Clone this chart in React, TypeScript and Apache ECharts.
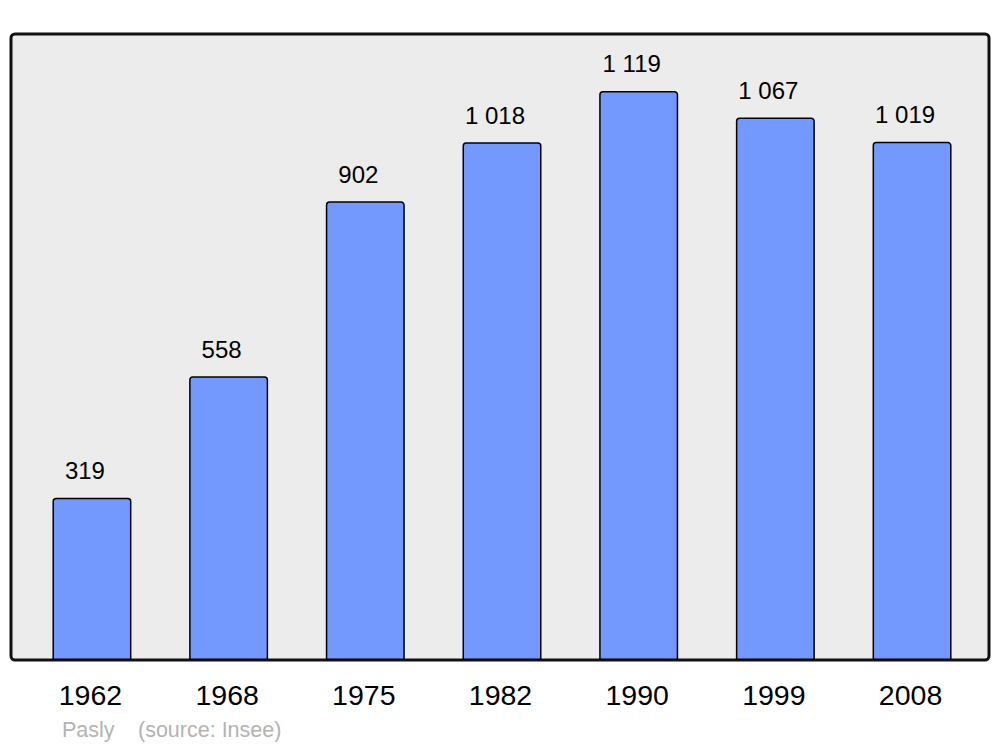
import React, { useEffect, useRef } from "react";
import * as echarts from "echarts";

const years = ["1962", "1968", "1975", "1982", "1990", "1999", "2008"];
const population = [319, 558, 902, 1018, 1119, 1067, 1019];
const townName = "Pasly";
const sourceText = "(source: Insee)";

const fmt = (v: number) => {
  const s = String(Math.round(v));
  return s.replace(/\B(?=(\d{3})+(?!\d))/g, " ");
};

export default function App() {
  const ref = useRef<HTMLDivElement>(null);
  useEffect(() => {
    document.body.style.margin = "0";
    const chart = echarts.init(ref.current!, null, { renderer: "svg" });
    chart.setOption({
      animation: false,
      backgroundColor: "#ffffff",
      textStyle: { fontFamily: "Liberation Sans, Arial, sans-serif" },
      grid: { left: 23.6, right: 19.6, top: 34, bottom: 87, containLabel: false },
      xAxis: {
        type: "category",
        data: years,
        axisLine: { show: false },
        axisTick: { show: false },
        axisLabel: {
          color: "#000",
          fontSize: 28.5,
          margin: 20,
          padding: [0, 3, 0, 0],
          fontFamily: "Liberation Sans, Arial, sans-serif",
        },
      },
      yAxis: {
        type: "value",
        min: 0,
        max: 1231,
        show: false,
        splitLine: { show: false },
      },
      graphic: [
        {
          type: "rect",
          z: -10,
          shape: { x: 11, y: 34, width: 978, height: 626, r: 4 },
          style: { fill: "#ececec", stroke: "#111111", lineWidth: 3 },
          silent: true,
        },
        {
          type: "text",
          x: 62,
          y: 730,
          style: {
            text: townName,
            fill: "#b3b3b3",
            fontSize: 21.5,
            fontFamily: "Liberation Sans, Arial, sans-serif",
            verticalAlign: "middle",
          },
        },
        {
          type: "text",
          x: 138,
          y: 730,
          style: {
            text: sourceText,
            fill: "#b3b3b3",
            fontSize: 21.5,
            fontFamily: "Liberation Sans, Arial, sans-serif",
            verticalAlign: "middle",
          },
        },
      ],
      series: [
        {
          type: "bar",
          data: population,
          barWidth: 79,
          itemStyle: {
            color: "#7399ff",
            borderColor: "#000000",
            borderWidth: 1.5,
            borderRadius: [3, 3, 0, 0],
          },
          label: {
            show: true,
            position: "top",
            distance: 15,
            offset: [-7, 0],
            color: "#000",
            fontSize: 24,
            fontFamily: "Liberation Sans, Arial, sans-serif",
            formatter: (p: any) => fmt(p.value),
          },
        },
      ],
    });
    return () => chart.dispose();
  }, []);
  return <div ref={ref} style={{ width: 1000, height: 747 }} />;
}
